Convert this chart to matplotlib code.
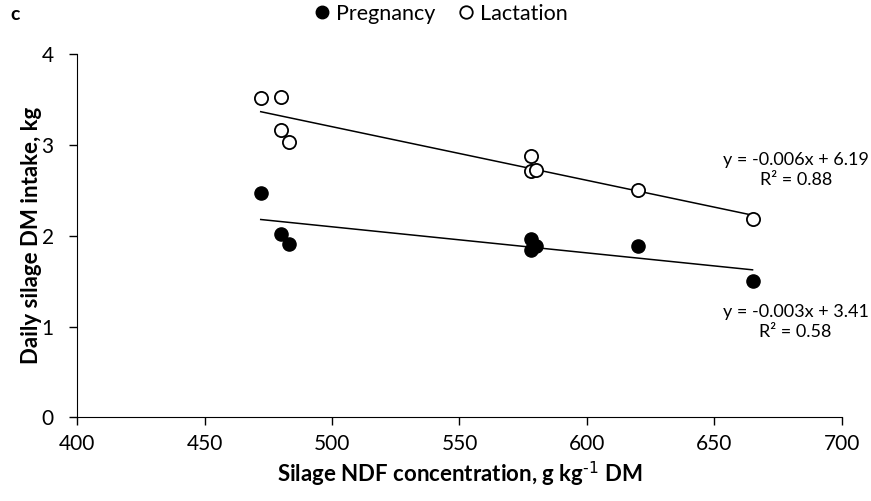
import numpy as np
import matplotlib
matplotlib.use('Agg')
import matplotlib.pyplot as plt
from matplotlib.lines import Line2D

plt.rcParams['font.family'] = ['Lato', 'DejaVu Sans']

# silage NDF (g/kg DM) and daily silage DM intake (kg)
ndf_preg = [472, 480, 483, 578, 578, 580, 620, 665]
dmi_preg = [2.47, 2.02, 1.91, 1.96, 1.84, 1.89, 1.89, 1.50]
ndf_lact = [472, 480, 480, 483, 578, 578, 580, 620, 665]
dmi_lact = [3.52, 3.53, 3.17, 3.03, 2.875, 2.71, 2.725, 2.50, 2.18]

eq_preg = 'y = -0.003x + 3.41\nR² = 0.58'
eq_lact = 'y = -0.006x + 6.19\nR² = 0.88'

fig = plt.figure(figsize=(8.71, 5.01), dpi=100)
ax = fig.add_axes([0.0887, 0.1671, 0.8777, 0.7246])

# linear trendlines (least squares)
for xs, ys in [(ndf_preg, dmi_preg), (ndf_lact, dmi_lact)]:
    slope, icpt = np.polyfit(xs, ys, 1)
    xx = np.array([min(xs), max(xs)])
    ax.plot(xx, slope * xx + icpt, color='black', lw=1.1, zorder=2)

ax.scatter(ndf_preg, dmi_preg, s=90, color='black', zorder=3)
ax.scatter(ndf_lact, dmi_lact, s=90, facecolor='white', edgecolor='black',
           linewidths=1.3, zorder=3)

ax.text(0.9135, 1 - 170 / 501, eq_lact, transform=fig.transFigure,
        ha='center', va='center', fontsize=13, linespacing=1.3)
ax.text(0.9135, 1 - 322 / 501, eq_preg, transform=fig.transFigure,
        ha='center', va='center', fontsize=13, linespacing=1.3)

ax.set_xlim(400, 700)
ax.set_ylim(0, 4)
ax.set_xticks(range(400, 701, 50))
ax.set_yticks(range(0, 5))
ax.spines['top'].set_visible(False)
ax.spines['right'].set_visible(False)
ax.tick_params(direction='out', length=6, width=1, labelsize=15)
ax.tick_params(axis='x', pad=6)
ax.tick_params(axis='y', pad=11)
ax.set_xlabel('Silage NDF concentration, g kg$^{\\text{-1}}$ DM', fontsize=16,
              fontweight='bold', labelpad=4)
ax.set_ylabel('Daily silage DM intake, kg', fontsize=16, fontweight='bold',
              labelpad=0)

handles = [Line2D([], [], ls='none', marker='o', ms=9, mfc='black', mec='black'),
           Line2D([], [], ls='none', marker='o', ms=9, mfc='white', mec='black', mew=1.3)]
fig.legend(handles, ['Pregnancy', 'Lactation'], loc='center',
           bbox_to_anchor=(0.506, 1 - 14 / 501), ncol=2, frameon=False,
           fontsize=15.5, handlelength=0.8, handletextpad=0.25, columnspacing=1.0)

fig.text(0.012, 1 - 14 / 501, 'c', fontsize=14, fontweight='bold',
         ha='left', va='center')

fig.savefig('out.png', dpi=100)
